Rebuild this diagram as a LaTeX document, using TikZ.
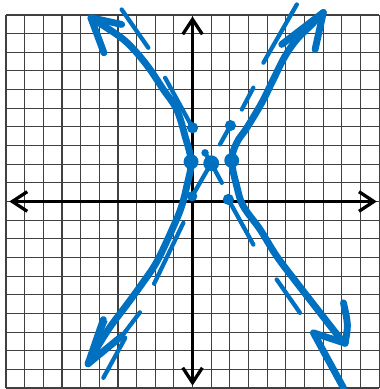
\documentclass[tikz,border=0pt]{standalone}
\usepackage{tikz}
\usetikzlibrary{arrows.meta}
\definecolor{inkblue}{RGB}{0,112,192}

\begin{document}
\begin{tikzpicture}[
    gridline/.style={draw=black!75, line width=1.8pt},
    axis/.style={line width=5pt, {Straight Barb[length=0.8cm, width=1.05cm]}-{Straight Barb[length=0.8cm, width=1.05cm]}},
    branch/.style={inkblue, line width=10.5pt, line cap=round, line join=round},
    asym/.style={inkblue, line width=6.5pt, line cap=round, line join=round},
    dot/.style={circle, fill=inkblue, inner sep=0pt, minimum size=#1},
    dot/.default=0.6cm
]
\useasboundingbox (-10.32,-10.05) rectangle (10,10.8);

% Grid
\draw[gridline] (-10,-10) grid (10,10);

% Axes
\coordinate (xl) at (-9.82,0);
\coordinate (xr) at (9.88,0);
\coordinate (yb) at (0,-9.87);
\coordinate (yt) at (0,9.92);
\draw[axis] (xl) -- (xr);
\draw[axis] (yb) -- (yt);

% Vertices, centre and box corners
\node[dot=0.8cm] (v1) at (-0.08,2.13) {};
\node[dot=0.85cm] (ctr) at (1.0,2.05) {};
\node[dot=0.8cm] (v2) at (2.1,2.2) {};
\node[dot] (p04) at (0,3.95) {};
\node[dot] (p24) at (2.03,4.07) {};
\node[dot=0.55cm] (p00) at (-0.02,0.28) {};
\node[dot] (p20) at (1.92,0.11) {};
\node[dot=0.4cm] (stub) at (0.67,2.61) {};

% Left branch
\draw[branch] plot[smooth, tension=0.6] coordinates {(-5.45,9.85) (-4.60,9.31) (-3.71,8.69) (-2.99,7.97) (-2.28,7.08) (-1.57,6.01) (-0.85,4.93) (-0.40,3.50) (v1.center) (-0.31,0.82) (-0.6,-0.3) (-1.05,-1.4) (-1.9,-3.2) (-2.7,-4.4) (-3.5,-5.5) (-4.4,-6.7) (-5.1,-7.8) (-5.6,-8.7)};
\draw[branch] (-4.75,7.97) -- (-5.45,9.85) -- (-3.80,9.49);
\fill[inkblue] (-5.6,-8.7) -- (-4.95,-6.35) -- (-4.55,-6.4) -- (-5.1,-7.8) -- cycle;
\draw[branch] (-4.78,-6.33) -- (-5.6,-8.7) -- (-3.80,-7.22);

% Right branch
\draw[branch] plot[smooth, tension=0.6] coordinates {(7.01,10.13) (6.30,9.40) (5.59,8.69) (4.96,7.79) (4.33,6.54) (3.71,5.29) (2.91,3.95) (2.37,3.15) (v2.center) (2.37,0.82) (2.72,-0.25) (3.62,-1.50) (4.51,-2.93) (5.59,-4.36) (6.84,-5.97) (7.82,-7.22) (8.18,-7.6)};
\draw[branch] (6.57,8.15) -- (7.01,10.13) -- (4.78,8.42);
\draw[branch] (8.09,-5.43) .. controls (8.35,-6.6) .. (8.18,-7.6) -- (6.48,-7.04) -- (8.09,-9.99);

% Asymptote y-2 = -2(x-1)
\draw[asym] (-3.80,10.29) -- (-2.37,8.24);
\draw[asym] (-1.47,6.63) -- (p04.center);
\draw[asym] (ctr.center) -- (1.57,1.00);
\draw[asym] (ctr.center) -- (stub.center);
\draw[asym] (p20.center) -- (3.26,-2.31);
\draw[asym] (4.51,-4.18) -- (5.76,-5.97);

% Asymptote y-2 = 2(x-1)
\draw[asym] (-2.82,-5.94) -- (-3.85,-7.3) -- (-3.6,-7.3) -- (-4.78,-9.45);
\draw[asym] (-2.06,-4.41) -- (-0.49,-1.14);
\draw[asym] (p00.center) -- (ctr.center);
\draw[asym] (1.47,3.06) -- (p24.center);
\draw[asym] (2.64,4.93) -- (3.26,6.10);
\draw[asym] (3.80,7.44) -- (5.59,10.56);

\end{tikzpicture}
\end{document}
